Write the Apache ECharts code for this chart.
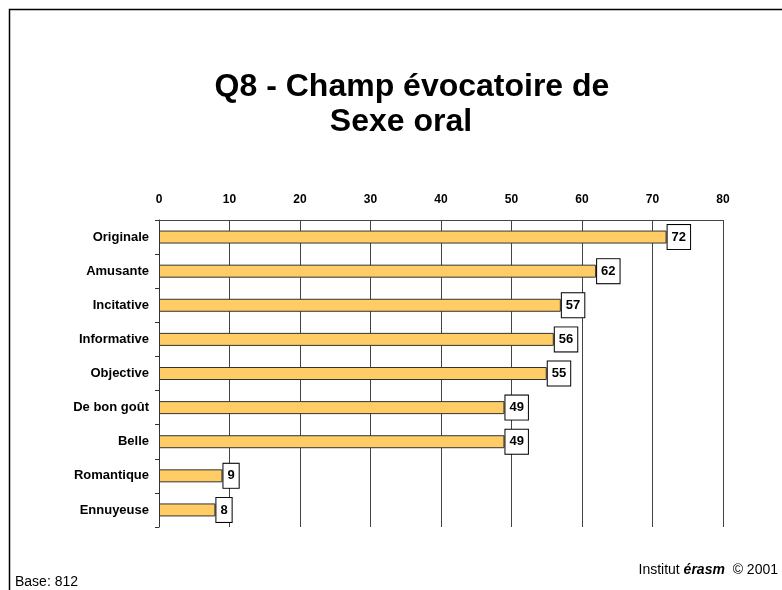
<!DOCTYPE html>
<html>
<head>
<meta charset="utf-8">
<script src="https://cdn.jsdelivr.net/npm/echarts@6/dist/echarts.min.js"></script>
<style>
  html, body { margin: 0; padding: 0; background: #fff; }
  #chart { width: 782px; height: 590px; }
</style>
</head>
<body>
<div id="chart"></div>
<script>
var categories = ['Originale', 'Amusante', 'Incitative', 'Informative', 'Objective', 'De bon goût', 'Belle', 'Romantique', 'Ennuyeuse']
var values = [72, 62, 57, 56, 55, 49, 49, 9, 8]
var tickValues = [0, 10, 20, 30, 40, 50, 60, 70, 80]

var font = 'Arial, "Liberation Sans", sans-serif'
var titleStyle = {
  fontFamily: font,
  fontSize: 32,
  fontWeight: 'bold',
  color: '#000',
  lineHeight: 33
}
var myChart = echarts.init(document.getElementById('chart'))
myChart.setOption({
  animation: false,
  textStyle: { fontFamily: font },
  title: [
    { text: 'Q8 - Champ évocatoire de', left: 407, top: 66, textAlign: 'center', textStyle: titleStyle },
    { text: 'Sexe oral', left: 396, top: 101, textAlign: 'center', textStyle: titleStyle }
  ],
  graphic: [
    {
      type: 'rect',
      shape: { x: 9.5, y: 9.5, width: 800, height: 600 },
      style: { fill: 'none', stroke: '#000', lineWidth: 1.5 },
      silent: true
    },
    {
      type: 'text',
      left: 15,
      top: 575,
      style: { text: 'Base: 812', font: '14px ' + font, fill: '#000' }
    },
    {
      type: 'text',
      right: 4,
      top: 563,
      style: {
        text: '{n|Institut }{b|érasm}{n|  © 2001}',
        rich: {
          n: { fontSize: 14, fontFamily: font, fill: '#000' },
          b: { fontSize: 14, fontFamily: font, fontWeight: 'bold', fontStyle: 'italic', fill: '#000' }
        }
      }
    }
  ],
  grid: {
    left: 159,
    right: 59,
    top: 220,
    bottom: 63
  },
  xAxis: {
    type: 'value',
    position: 'top',
    min: 0,
    max: 80,
    interval: 10,
    axisLine: { show: true, lineStyle: { color: '#444', width: 1 } },
    axisTick: { show: false },
    axisLabel: {
      color: '#000',
      fontSize: 12,
      fontWeight: 'bold',
      fontFamily: font,
      margin: 14,
      formatter: function (v) { return tickValues.indexOf(v) >= 0 ? String(v) : '' }
    },
    splitLine: { show: true, lineStyle: { color: '#444', width: 1 } }
  },
  yAxis: {
    type: 'category',
    data: categories,
    inverse: true,
    axisLine: { show: true, lineStyle: { color: '#333', width: 1 } },
    axisTick: { show: true, length: 4, lineStyle: { color: '#333' } },
    axisLabel: {
      color: '#000',
      fontSize: 13,
      fontWeight: 'bold',
      fontFamily: font,
      margin: 10
    }
  },
  series: [
    {
      type: 'bar',
      data: values,
      barWidth: 13,
      itemStyle: {
        color: '#FFCC66',
        borderColor: '#333',
        borderWidth: 1
      },
      label: {
        show: true,
        position: 'right',
        distance: 1,
        color: '#000',
        fontSize: 13,
        fontWeight: 'bold',
        fontFamily: font,
        backgroundColor: '#fff',
        borderColor: '#000',
        borderWidth: 1,
        padding: [6, 4, 5, 4]
      }
    }
  ]
})
</script>
</body>
</html>
